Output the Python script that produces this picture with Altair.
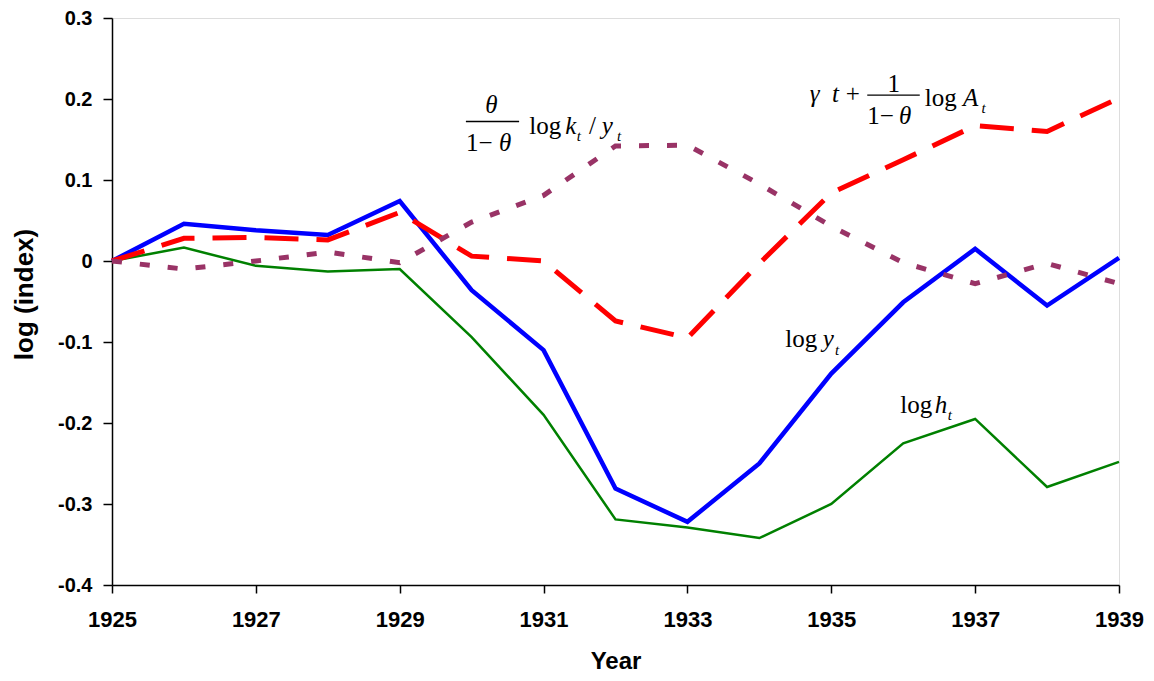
import altair as alt
import pandas as pd

years = list(range(1925, 1940))
log_y = [0, 0.046, 0.038, 0.032, 0.074, -0.036, -0.110, -0.281, -0.322, -0.250, -0.139, -0.051, 0.015, -0.055, 0.004]
log_h = [0, 0.0165, -0.006, -0.013, -0.010, -0.094, -0.190, -0.319, -0.329, -0.342, -0.300, -0.225, -0.195, -0.279, -0.248]
log_A = [0, 0.028, 0.029, 0.026, 0.060, 0.006, 0.000, -0.074, -0.095, -0.003, 0.084, 0.125, 0.167, 0.160, 0.201]
log_ky = [0, -0.010, 0.000, 0.011, -0.002, 0.048, 0.081, 0.142, 0.143, 0.095, 0.043, -0.002, -0.028, -0.003, -0.028]

series_names = ["log_y", "log_h", "log_A", "log_ky"]
series_vals = [log_y, log_h, log_A, log_ky]

x_ticks = [1925, 1927, 1929, 1931, 1933, 1935, 1937, 1939]
y_ticks = [-0.4, -0.3, -0.2, -0.1, 0, 0.1, 0.2, 0.3]

# annotation pieces (text, year, value)
ann_normal_text = ["log", "/", "1\u2212", "+", "1", "1\u2212", "log", "log", "log"]
ann_normal_x = [1930.80, 1931.63, 1929.92, 1935.20, 1935.78, 1935.50, 1936.30, 1934.36, 1935.96]
ann_normal_y = [0.157, 0.157, 0.136, 0.1965, 0.2088, 0.1694, 0.1915, -0.1064, -0.1881]

ann_ital_text = ["\u03b8", "\u03b8", "k", "y", "\u03b3", "t", "\u03b8", "A", "y", "h"]
ann_ital_x = [1930.19, 1930.38, 1931.30, 1931.81, 1934.70, 1935.01, 1935.94, 1936.83, 1934.88, 1936.44]
ann_ital_y = [0.1829, 0.136, 0.157, 0.157, 0.1965, 0.1965, 0.1694, 0.1915, -0.1064, -0.1881]

ann_sub_text = ["t", "t", "t", "t", "t"]
ann_sub_x = [1931.46, 1932.02, 1937.09, 1935.05, 1936.62]
ann_sub_y = [0.1484, 0.1484, 0.1829, -0.1166, -0.1967]

bar_x1 = [1929.92, 1935.50]
bar_x2 = [1930.66, 1936.23]
bar_y = [0.1722, 0.2047]

rows = []
for name, vals in zip(series_names, series_vals):
    for yr, v in zip(years, vals):
        rows.append({"year": yr, "value": v, "series": name})
df = pd.DataFrame(rows)

df_norm = pd.DataFrame({"t": ann_normal_text, "year": ann_normal_x, "value": ann_normal_y})
df_ital = pd.DataFrame({"t": ann_ital_text, "year": ann_ital_x, "value": ann_ital_y})
df_sub = pd.DataFrame({"t": ann_sub_text, "year": ann_sub_x, "value": ann_sub_y})
df_bar = pd.DataFrame({"year": bar_x1, "year2": bar_x2, "value": bar_y})

x_scale = alt.Scale(domain=[1925, 1939], nice=False, zero=False)
y_scale = alt.Scale(domain=[-0.4, 0.3], nice=False, zero=False)

x_axis = alt.Axis(
    values=x_ticks, format="d", title="Year", grid=False,
    labelFont="Liberation Sans", labelFontWeight="bold", labelFontSize=22, labelColor="black",
    tickSize=8, tickColor="black", tickWidth=1.5, domainColor="black", domainWidth=1.5,
    labelPadding=16, titleFont="Liberation Sans", titleFontSize=24, titleFontWeight="bold",
    titleColor="black", titlePadding=19, labelFlush=False,
)
y_axis = alt.Axis(
    values=y_ticks, title="log (index)", grid=False,
    labelExpr="datum.value == 0 ? '0' : (datum.value < 0 ? '-' + format(-datum.value, '.1f') : format(datum.value, '.1f'))",
    labelFont="Liberation Sans", labelFontWeight="bold", labelFontSize=20, labelColor="black",
    tickSize=9, tickColor="black", tickWidth=1.5, domainColor="black", domainWidth=1.5,
    labelPadding=11, titleFont="Liberation Sans", titleFontSize=26, titleFontWeight="bold",
    titleColor="black", titlePadding=20, titleY=276, labelFlush=False,
)

x_enc = alt.X("year:Q", scale=x_scale, axis=x_axis)
y_enc = alt.Y("value:Q", scale=y_scale, axis=y_axis)

base = alt.Chart(df)


def line(name, color, width, dash=None):
    kw = dict(color=color, strokeWidth=width, strokeCap="butt", strokeJoin="miter")
    if dash:
        kw["strokeDash"] = dash
    return base.transform_filter(alt.datum.series == name).mark_line(**kw).encode(x=x_enc, y=y_enc)


l_y = line("log_y", "#0000FF", 4.5)
l_h = line("log_h", "#008000", 2.5)
l_A = line("log_A", "#FF0000", 5, [34, 18])
l_k = line("log_ky", "#993366", 5, [10, 18])

t_norm = alt.Chart(df_norm).mark_text(
    font="Liberation Serif", fontSize=25, align="left", baseline="alphabetic", color="black"
).encode(x=x_enc, y=y_enc, text="t:N")
t_ital = alt.Chart(df_ital).mark_text(
    font="Liberation Serif", fontSize=25, fontStyle="italic", align="left", baseline="alphabetic", color="black"
).encode(x=x_enc, y=y_enc, text="t:N")
t_sub = alt.Chart(df_sub).mark_text(
    font="Liberation Serif", fontSize=15, fontStyle="italic", align="left", baseline="alphabetic", color="black"
).encode(x=x_enc, y=y_enc, text="t:N")
bars = alt.Chart(df_bar).mark_rule(color="black", strokeWidth=1.3).encode(
    x=x_enc, x2="year2:Q", y=y_enc
)

chart = alt.layer(l_y, l_h, l_A, l_k, t_norm, t_ital, t_sub, bars).properties(
    width=1007, height=567,
    autosize=alt.AutoSizeParams(type="none"),
    padding={"left": 104, "top": 10, "right": 27, "bottom": 88},
).configure_view(stroke="#8c8c8c", strokeWidth=2).configure(background="white")

chart.save("out.html", embed_options={"renderer": "svg", "actions": False})
